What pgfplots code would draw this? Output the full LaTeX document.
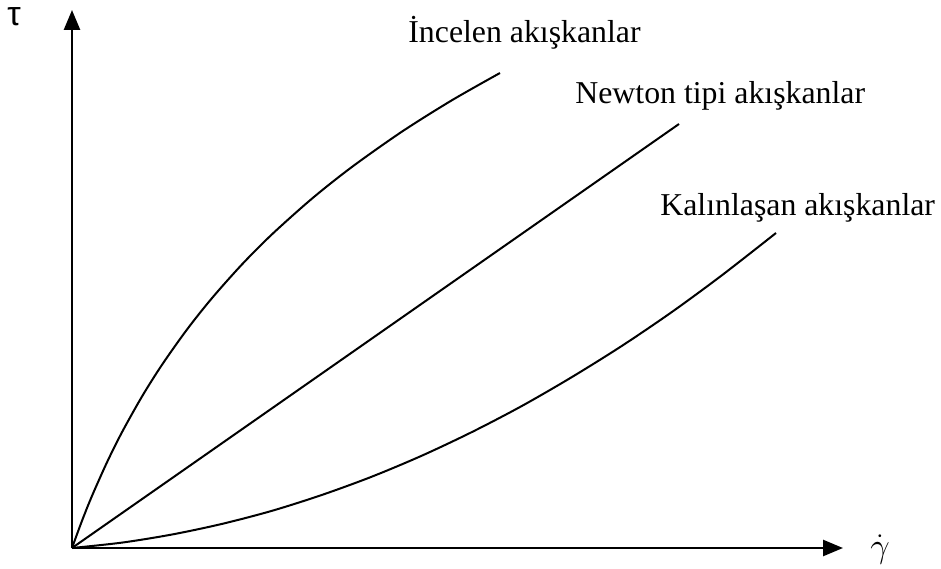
\documentclass[border=0pt]{standalone}
\usepackage{pgfplots}
\pgfplotsset{compat=1.18}
\usetikzlibrary{arrows.meta}
\usepackage{fontspec}
\setmainfont{Liberation Serif}
\newfontfamily\greeksans{Liberation Sans}

\begin{document}
\begin{tikzpicture}[x=0.5pt,y=0.5pt]
\begin{axis}[
  scale only axis,
  width=385.5pt, height=269pt,
  xmin=0, xmax=771, ymin=0, ymax=538,
  axis lines=left,
  axis line style={line width=1.3pt, -{Triangle[length=10pt,width=8pt]}},
  ticks=none,
  clip=false,
]
% invisible frame fixing the page extent
\path (axis cs:-72,-20) rectangle (axis cs:869,548);

% shear-thinning
\addplot[smooth, line width=1pt, black] coordinates {
  (0,0) (10,27.2) (20,52.1) (35,85.7) (50,115.8) (70,151.5) (90,183.2)
  (115,218.5) (140,249.9) (170,283.6) (200,313.7) (240,349.4)
  (280,381.1) (330,416.4) (380,447.8) (428,475)
};
% Newtonian
\addplot[line width=1pt, black] coordinates {(0,0) (607,424)};
% shear-thickening
\addplot[smooth, line width=1pt, black] coordinates {
  (0,0) (50,5.4) (100,13.5) (150,24.1) (200,37.2) (250,53.1) (300,71.4)
  (350,92.4) (400,116) (450,142.1) (500,171) (550,202.2) (600,236.1)
  (650,272.8) (704,315)
};

\node[anchor=base west, inner sep=0pt, font=\fontsize{15.9}{19}\selectfont]
  at (axis cs:336,505) {İncelen akışkanlar};
\node[anchor=base west, inner sep=0pt, font=\fontsize{15.9}{19}\selectfont]
  at (axis cs:503,444) {Newton tipi akışkanlar};
\node[anchor=base west, inner sep=0pt, font=\fontsize{15.9}{19}\selectfont]
  at (axis cs:588,333) {Kalınlaşan akışkanlar};

\node[inner sep=0pt, font=\fontsize{17}{20}\selectfont\greeksans]
  at (axis cs:-58,531) {τ};
\node[inner sep=0pt, font=\fontsize{18}{21}\selectfont]
  at (axis cs:808,-2) {$\dot{\gamma}$};
\end{axis}
\end{tikzpicture}
\end{document}
